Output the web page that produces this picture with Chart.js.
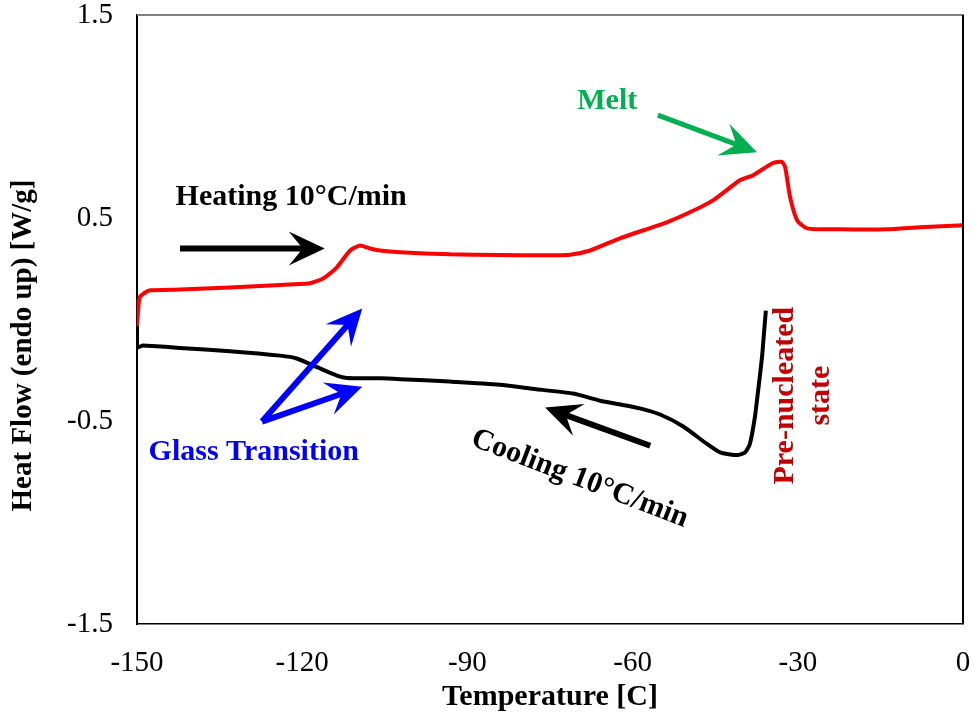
<!DOCTYPE html>
<html>
<head>
<meta charset="utf-8">
<script src="https://cdn.jsdelivr.net/npm/chart.js@4/dist/chart.umd.min.js"></script>
<style>
  html, body { margin: 0; padding: 0; background: #fff; }
  #wrap { width: 975px; height: 717px; position: relative; }
</style>
</head>
<body>
<div id="wrap"><canvas id="dsc"></canvas></div>
<script>
// DSC scan: heating and cooling at 10 °C/min
const heatingT = [-150, -149.8, -149.5, -148.5, -147.6, -142.2, -133.1, -125.8, -118.6, -116.2, -113.7, -111.3, -109.5, -107.7, -105.9, -102.2, -93.2, -84.1, -76.8, -71.4, -67.7, -62.3, -53.8, -49.6, -45.4, -40.5, -38.1, -34.5, -32.9, -32.3, -31.4, -30.1, -28.3, -22.3, -13.8, -7.8, 0];
const heatingHF = [-0.038, 0.044, 0.110, 0.133, 0.144, 0.148, 0.158, 0.168, 0.179, 0.202, 0.257, 0.340, 0.365, 0.350, 0.340, 0.331, 0.321, 0.318, 0.316, 0.319, 0.340, 0.400, 0.479, 0.528, 0.587, 0.686, 0.711, 0.771, 0.776, 0.751, 0.603, 0.488, 0.449, 0.444, 0.444, 0.454, 0.464];

const coolingT = [-35.8, -36.1, -36.5, -37.2, -37.8, -38.7, -39.6, -41.0, -44.1, -46.5, -50.8, -55.0, -58.7, -62.0, -65.9, -70.8, -78.6, -84.1, -93.2, -102.2, -105.9, -111.9, -113.7, -117.3, -121.0, -124.0, -133.1, -142.2, -148.9, -150, -150];
const coolingHF = [0.044, -0.054, -0.186, -0.350, -0.482, -0.613, -0.655, -0.668, -0.655, -0.613, -0.527, -0.468, -0.438, -0.420, -0.400, -0.365, -0.340, -0.321, -0.306, -0.294, -0.290, -0.288, -0.276, -0.235, -0.192, -0.178, -0.156, -0.140, -0.128, -0.137, -0.035];

const xTickValues = [-150, -120, -90, -60, -30, 0];
const xTickLabels = ['-150', '-120', '-90', '-60', '-30', '0'];
const yTickValues = [-1.5, -0.5, 0.5, 1.5];
const yTickLabels = ['-1.5', '-0.5', '0.5', '1.5'];

const toPoints = (xs, ys) => xs.map((x, i) => ({ x: x, y: ys[i] }));

// Callouts, placed in axis units
const arrows = [
  { from: [-142.2, 0.35], to: [-115.9, 0.35], color: '#000000', shaft: 6 },
  { from: [-55.4, 1.007], to: [-37.4, 0.824], color: '#00B050', shaft: 5 },
  { from: [-127.3, -0.503], to: [-109.1, 0.054], color: '#0000FF', shaft: 6 },
  { from: [-127.3, -0.503], to: [-109.1, -0.331], color: '#0000FF', shaft: 6 },
  { from: [-56.8, -0.622], to: [-75.9, -0.434], color: '#000000', shaft: 6 }
];
const notes = [
  { text: ['Heating 10°C/min'], at: [-122.0, 0.602], color: '#000000', angle: 0 },
  { text: ['Melt'], at: [-64.6, 1.076], color: '#00B050', angle: 0 },
  { text: ['Glass Transition'], at: [-128.8, -0.656], color: '#0000FF', angle: 0 },
  { text: ['Cooling 10°C/min'], at: [-69.6, -0.785], color: '#000000', angle: 21 },
  { text: ['Pre-nucleated', 'state'], at: [-29.0, -0.375], color: '#C00000', angle: -90 }
];
const yTitle = 'Heat Flow (endo up) [W/g]';

const FONT = '"Liberation Serif", "Times New Roman", serif';

function drawArrow(ctx, x0, y0, x1, y1, color, shaft) {
  const dx = x1 - x0, dy = y1 - y0;
  const len = Math.hypot(dx, dy);
  const ux = dx / len, uy = dy / len;
  const nx = -uy, ny = ux;
  const L = 36, W = 17, N = 14;
  const bx = x1 - L * ux, by = y1 - L * uy;
  const mx = x1 - (L - N) * ux, my = y1 - (L - N) * uy;
  ctx.save();
  ctx.strokeStyle = color;
  ctx.fillStyle = color;
  ctx.lineWidth = shaft;
  ctx.lineCap = 'butt';
  ctx.beginPath();
  ctx.moveTo(x0, y0);
  ctx.lineTo(mx + ux * 2, my + uy * 2);
  ctx.stroke();
  ctx.beginPath();
  ctx.moveTo(x1, y1);
  ctx.lineTo(bx + W * nx, by + W * ny);
  ctx.lineTo(mx, my);
  ctx.lineTo(bx - W * nx, by - W * ny);
  ctx.closePath();
  ctx.fill();
  ctx.restore();
}

const callouts = {
  id: 'callouts',
  afterDraw(chart) {
    const { ctx, chartArea: a, scales: { x, y } } = chart;
    ctx.save();
    // frame: top and right edges
    ctx.strokeStyle = '#808080';
    ctx.lineWidth = 2;
    ctx.beginPath();
    ctx.moveTo(a.left, a.top);
    ctx.lineTo(a.right + 1, a.top);
    ctx.stroke();
    ctx.strokeStyle = '#000000';
    ctx.lineWidth = 2;
    ctx.beginPath();
    ctx.moveTo(a.right, a.top);
    ctx.lineTo(a.right, a.bottom);
    ctx.stroke();

    // vertical axis title, sitting slightly below the plot's midline
    ctx.save();
    ctx.font = 'bold 29px ' + FONT;
    ctx.fillStyle = '#000000';
    ctx.textAlign = 'center';
    ctx.textBaseline = 'middle';
    ctx.translate(24, (a.top + a.bottom) / 2 + 26);
    ctx.rotate(-Math.PI / 2);
    ctx.fillText(yTitle, 0, 0);
    ctx.restore();

    arrows.forEach(ar => {
      drawArrow(ctx,
        x.getPixelForValue(ar.from[0]), y.getPixelForValue(ar.from[1]),
        x.getPixelForValue(ar.to[0]), y.getPixelForValue(ar.to[1]),
        ar.color, ar.shaft);
    });

    ctx.font = 'bold 30px ' + FONT;
    ctx.textAlign = 'center';
    ctx.textBaseline = 'middle';
    notes.forEach(n => {
      ctx.save();
      ctx.translate(x.getPixelForValue(n.at[0]), y.getPixelForValue(n.at[1]));
      ctx.rotate(n.angle * Math.PI / 180);
      ctx.fillStyle = n.color;
      const lh = 36;
      n.text.forEach((t, i) => {
        ctx.fillText(t, 0, (i - (n.text.length - 1) / 2) * lh);
      });
      ctx.restore();
    });
    ctx.restore();
  }
};

// keep tick labels from widening the outer margins
function noEdgePadding(s) {
  s.paddingTop = 0; s.paddingBottom = 0; s.paddingLeft = 0; s.paddingRight = 0;
}

new Chart(document.getElementById('dsc'), {
  type: 'line',
  data: {
    datasets: [
      {
        label: 'Cooling',
        data: toPoints(coolingT, coolingHF),
        borderColor: '#000000',
        borderWidth: 4,
        pointRadius: 0,
        tension: 0.2,
        fill: false
      },
      {
        label: 'Heating',
        data: toPoints(heatingT, heatingHF),
        borderColor: '#FF0000',
        borderWidth: 4,
        pointRadius: 0,
        tension: 0.2,
        fill: false
      }
    ]
  },
  options: {
    responsive: true,
    maintainAspectRatio: false,
    animation: false,
    layout: { padding: { top: 15, right: 12, left: 0, bottom: 0 } },
    plugins: {
      legend: { display: false },
      tooltip: { enabled: false }
    },
    scales: {
      x: {
        type: 'linear',
        min: -150,
        max: 0,
        afterFit(s) { s.height = 93; noEdgePadding(s); },
        afterBuildTicks(s) { s.ticks = xTickValues.map(v => ({ value: v })); },
        grid: { display: false, drawTicks: false },
        border: { display: true, color: '#000000', width: 1.5 },
        ticks: {
          padding: 22,
          color: '#000000',
          font: { family: FONT, size: 29 },
          maxRotation: 0,
          callback: (v) => xTickLabels[xTickValues.indexOf(v)]
        },
        title: {
          display: true,
          text: 'Temperature [C]',
          color: '#000000',
          font: { family: FONT, size: 30, weight: 'bold' },
          padding: { top: 0, bottom: 2 }
        }
      },
      y: {
        type: 'linear',
        min: -1.5,
        max: 1.5,
        afterFit(s) { s.width = 137; noEdgePadding(s); },
        afterBuildTicks(s) { s.ticks = yTickValues.map(v => ({ value: v })); },
        grid: { display: false, drawTicks: false },
        border: { display: true, color: '#000000', width: 2 },
        ticks: {
          padding: 24,
          color: '#000000',
          font: { family: FONT, size: 29 },
          callback: (v) => yTickLabels[yTickValues.indexOf(v)]
        },
        title: { display: false }
      }
    }
  },
  plugins: [callouts]
});
</script>
</body>
</html>
